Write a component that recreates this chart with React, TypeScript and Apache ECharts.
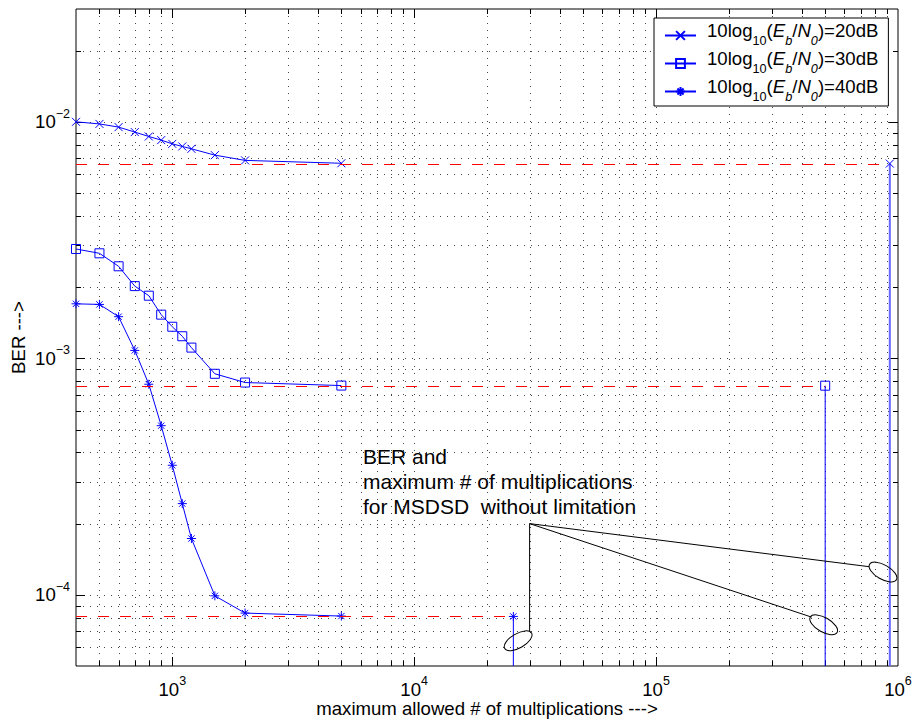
import React, { useEffect, useRef } from "react";
import * as echarts from "echarts";

const FONT = "Liberation Sans, Arial, Helvetica, sans-serif";

const X_MIN = 400;
const X_MAX = 1e6;
const Y_MIN = 5e-5;
const Y_MAX = 3e-2;

// maximum allowed number of multiplications (x)
const maxMults = [400, 500, 600, 700, 800, 900, 1000, 1100, 1200, 1500, 2000, 5000];
// BER for each SNR
const ber20dB = [1.0e-2, 9.8e-3, 9.5e-3, 9.05e-3, 8.67e-3, 8.37e-3, 8.07e-3, 7.87e-3, 7.69e-3, 7.23e-3, 6.87e-3, 6.68e-3];
const ber30dB = [2.9e-3, 2.78e-3, 2.45e-3, 2.02e-3, 1.84e-3, 1.53e-3, 1.36e-3, 1.24e-3, 1.11e-3, 8.6e-4, 7.9e-4, 7.67e-4];
const ber40dB = [1.7e-3, 1.69e-3, 1.5e-3, 1.08e-3, 7.77e-4, 5.19e-4, 3.53e-4, 2.43e-4, 1.73e-4, 9.9e-5, 8.37e-5, 8.13e-5];
const snrDb = ["20", "30", "40"];

// MSDSD without limitation: max # of multiplications and BER
const unlimitedMults = [9.25e5, 5.0e5, 2.57e4];
const unlimitedBer = [6.66e-3, 7.66e-4, 8.1e-5];

// grid / tick positions
const xGridValues = [
  500, 600, 700, 800, 900,
  1000, 2000, 3000, 4000, 5000, 6000, 7000, 8000, 9000,
  10000, 20000, 30000, 40000, 50000, 60000, 70000, 80000, 90000,
  100000, 200000, 300000, 400000, 500000, 600000, 700000, 800000, 900000,
];
const yGridValues = [
  6e-5, 7e-5, 8e-5, 9e-5,
  1e-4, 2e-4, 3e-4, 4e-4, 5e-4, 6e-4, 7e-4, 8e-4, 9e-4,
  1e-3, 2e-3, 3e-3, 4e-3, 5e-3, 6e-3, 7e-3, 8e-3, 9e-3,
  1e-2, 2e-2,
];

// callout annotation (data coordinates)
const calloutApex = [3.0e4, 2.0e-4];
const calloutEnds = [[3.0e4, 7.0e-5], [4.39e5, 8.05e-5], [7.59e5, 1.315e-4]];
const ellipseCenters = [[2.69e4, 6.39e-5], [4.93e5, 7.47e-5], [8.67e5, 1.248e-4]];
const ellipseTilt = [30, -30, -30];
const annotationText = "BER and\nmaximum # of multiplications\nfor MSDSD  without limitation";

const SYM_X = "path://M0,0L10,10M10,0L0,10";
const SYM_SQ = "path://M0,0L10,0L10,10L0,10Z";
const SYM_AST = "path://M5,0L5,10M0,5L10,5M1.5,1.5L8.5,8.5M8.5,1.5L1.5,8.5";
const symbols = [SYM_X, SYM_SQ, SYM_AST];
const symbolSizes = [8, 9, 9];
const stemColors = ["#6666ff", "#0000ff", "#0000ff"];
const stemWidths = [2, 1, 1];

const BLUE = "#0000ff";
const RED = "#ff0000";
const GRID_DOT = "#444";

const isMajor = (v: number) => {
  const e = Math.log10(v);
  return Math.abs(e - Math.round(e)) < 1e-6;
};

const expLabel = (v: number) => {
  const e = Math.log10(v);
  const r = Math.round(e);
  if (Math.abs(e - r) > 1e-6) return "";
  const s = r < 0 ? "\u2212" + String(-r) : String(r);
  return `{b|10}{s|${s}}`;
};

const labelRich = {
  b: { fontSize: 18.6, fontFamily: FONT, color: "#000", height: 26 },
  s: { fontSize: 12.5, fontFamily: FONT, color: "#000", height: 10, verticalAlign: "top" },
};

export default function App() {
  const ref = useRef<HTMLDivElement>(null);

  useEffect(() => {
    document.body.style.margin = "0";
    if (!ref.current) return;
    const chart = echarts.init(ref.current, undefined, { renderer: "svg" });

    const berSets = [ber20dB, ber30dB, ber40dB];
    const names = snrDb.map((d) => `10log10(Eb/N0)=${d}dB`);

    const mainSeries = berSets.map((ber, i) => ({
      type: "line",
      name: names[i],
      data: maxMults.map((x, k) => [x, ber[k]]),
      symbol: symbols[i],
      symbolSize: symbolSizes[i],
      lineStyle: { color: BLUE, width: 1 },
      itemStyle: { color: "rgba(0,0,0,0)", borderColor: BLUE, borderWidth: 1 },
      emphasis: { disabled: true },
      silent: true,
      z: 3,
    }));

    // red dashed reference lines at the unlimited-MSDSD BER
    const refLines = {
      type: "custom",
      name: "refLines",
      silent: true,
      z: 4,
      clip: true,
      data: unlimitedMults.map((xf, i) => [xf, unlimitedBer[i]]),
      renderItem: (params: any, api: any) => {
        const xf = api.value(0);
        const yf = api.value(1);
        const p0 = api.coord([X_MIN, yf]);
        const p1 = api.coord([xf, yf]);
        const y = Math.round(p0[1]) + 0.5;
        return {
          type: "line",
          shape: { x1: p0[0], y1: y, x2: p1[0], y2: y },
          style: { stroke: RED, lineWidth: 1, lineDash: [11, 11] },
        };
      },
    };

    const stemSeries = unlimitedMults.map((xf, i) => ({
      type: "line",
      name: "stem" + i,
      data: [
        { value: [xf, Y_MIN], symbol: "none" },
        { value: [xf, unlimitedBer[i]], symbol: symbols[i], symbolSize: symbolSizes[i] },
      ],
      lineStyle: { color: stemColors[i], width: stemWidths[i] },
      itemStyle: { color: "rgba(0,0,0,0)", borderColor: BLUE, borderWidth: 1 },
      emphasis: { disabled: true },
      silent: true,
      z: 5,
    }));

    const gridX = {
      type: "custom",
      name: "gridX",
      silent: true,
      z: 1,
      clip: false,
      data: xGridValues.map((v) => [v, Y_MIN]),
      renderItem: (params: any, api: any) => {
        const v = api.value(0);
        const top = api.coord([v, Y_MAX]);
        const bot = api.coord([v, Y_MIN]);
        const x = Math.round(top[0]) + 0.5;
        const len = isMajor(v) ? 9 : 5;
        return {
          type: "group",
          children: [
            { type: "line", shape: { x1: x, y1: top[1], x2: x, y2: bot[1] }, style: { stroke: GRID_DOT, lineWidth: 1, lineDash: [1, 6] } },
            { type: "line", shape: { x1: x, y1: bot[1], x2: x, y2: bot[1] - len }, style: { stroke: "#000", lineWidth: 1 } },
            { type: "line", shape: { x1: x, y1: top[1], x2: x, y2: top[1] + len }, style: { stroke: "#000", lineWidth: 1 } },
          ],
        };
      },
    };

    const gridY = {
      type: "custom",
      name: "gridY",
      silent: true,
      z: 1,
      clip: false,
      data: yGridValues.map((v) => [X_MIN, v]),
      renderItem: (params: any, api: any) => {
        const v = api.value(1);
        const l = api.coord([X_MIN, v]);
        const r = api.coord([X_MAX, v]);
        const y = Math.round(l[1]) + 0.5;
        const len = isMajor(v) ? 9 : 5;
        return {
          type: "group",
          children: [
            { type: "line", shape: { x1: l[0], y1: y, x2: r[0], y2: y }, style: { stroke: GRID_DOT, lineWidth: 1, lineDash: [1, 6] } },
            { type: "line", shape: { x1: l[0], y1: y, x2: l[0] + len, y2: y }, style: { stroke: "#000", lineWidth: 1 } },
            { type: "line", shape: { x1: r[0], y1: y, x2: r[0] - len, y2: y }, style: { stroke: "#000", lineWidth: 1 } },
          ],
        };
      },
    };

    const callout = {
      type: "custom",
      name: "callout",
      silent: true,
      z: 6,
      clip: false,
      data: ellipseCenters.map((c, i) => [c[0], c[1], calloutEnds[i][0], calloutEnds[i][1], ellipseTilt[i]]),
      renderItem: (params: any, api: any) => {
        const c = api.coord([api.value(0), api.value(1)]);
        const e = api.coord([api.value(2), api.value(3)]);
        const a = api.coord(calloutApex);
        return {
          type: "group",
          children: [
            { type: "line", shape: { x1: a[0], y1: a[1], x2: e[0], y2: e[1] }, style: { stroke: "#000", lineWidth: 1 } },
            {
              type: "ellipse",
              x: c[0],
              y: c[1],
              rotation: (api.value(4) * Math.PI) / 180,
              shape: { cx: 0, cy: 0, rx: 15.5, ry: 7.2 },
              style: { fill: "none", stroke: "#000", lineWidth: 1 },
            },
          ],
        };
      },
    };

    const option: any = {
      animation: false,
      backgroundColor: "#fff",
      grid: {
        left: 76,
        top: 9,
        width: 822,
        height: 657,
        show: true,
        borderColor: "#000",
        borderWidth: 1,
        backgroundColor: "#fff",
        containLabel: false,
        outerBoundsMode: "none",
      },
      xAxis: {
        type: "log",
        logBase: 10,
        min: X_MIN,
        max: X_MAX,
        axisLine: { show: false },
        axisTick: { show: false },
        splitLine: { show: false },
        minorTick: { show: false },
        axisLabel: { formatter: expLabel, margin: 10, rich: labelRich, color: "#000" },
        name: "maximum allowed # of multiplications --->",
        nameLocation: "middle",
        nameGap: 33,
        nameMoveOverlap: false,
        nameTextStyle: { fontSize: 18.6, fontFamily: FONT, color: "#000" },
      },
      yAxis: {
        type: "log",
        logBase: 10,
        min: Y_MIN,
        max: Y_MAX,
        axisLine: { show: false },
        axisTick: { show: false },
        splitLine: { show: false },
        minorTick: { show: false },
        axisLabel: { formatter: expLabel, margin: 6, rich: labelRich, color: "#000" },
        name: "BER --->",
        nameLocation: "middle",
        nameGap: 48,
        nameMoveOverlap: false,
        nameTextStyle: { fontSize: 18.6, fontFamily: FONT, color: "#000" },
      },
      legend: {
        data: names,
        orient: "vertical",
        left: 654,
        top: 18,
        padding: [3, 10, 3, 10],
        itemGap: 2,
        itemWidth: 31,
        itemHeight: 11,
        backgroundColor: "#fff",
        borderColor: "#000",
        borderWidth: 1,
        borderRadius: 0,
        selectedMode: false,
        formatter: (name: string) => {
          const m = name.match(/=(\d+)dB/);
          const d = m ? m[1] : "";
          return `{n0|10log}{s|10}{n|(}{ni|E}{si|b}{n|/}{ni|N}{si|0}{n|)=${d}dB}`;
        },
        textStyle: {
          color: "#000",
          fontFamily: FONT,
          fontSize: 18.6,
          rich: {
            n0: { fontSize: 18.6, fontFamily: FONT, color: "#000", height: 16, verticalAlign: "top", padding: [0, 0, 0, 6] },
            n: { fontSize: 18.6, fontFamily: FONT, color: "#000", height: 16, verticalAlign: "top" },
            ni: { fontSize: 18.6, fontFamily: FONT, color: "#000", height: 16, verticalAlign: "top", fontStyle: "italic" },
            s: { fontSize: 12.7, fontFamily: FONT, color: "#000", height: 12, verticalAlign: "top", padding: [12, 0, 2, 0] },
            si: { fontSize: 12.7, fontFamily: FONT, color: "#000", height: 12, verticalAlign: "top", padding: [12, 0, 2, 0], fontStyle: "italic" },
          },
        },
      },
      graphic: [
        {
          type: "text",
          left: 363,
          top: 444,
          silent: true,
          style: {
            text: annotationText,
            fill: "#000",
            font: `21px ${FONT}`,
            lineHeight: 25,
          },
        },
      ],
      series: [gridX, gridY, ...mainSeries, refLines, ...stemSeries, callout],
    };

    chart.setOption(option);
    return () => chart.dispose();
  }, []);

  return <div ref={ref} style={{ width: 914, height: 724 }} />;
}
